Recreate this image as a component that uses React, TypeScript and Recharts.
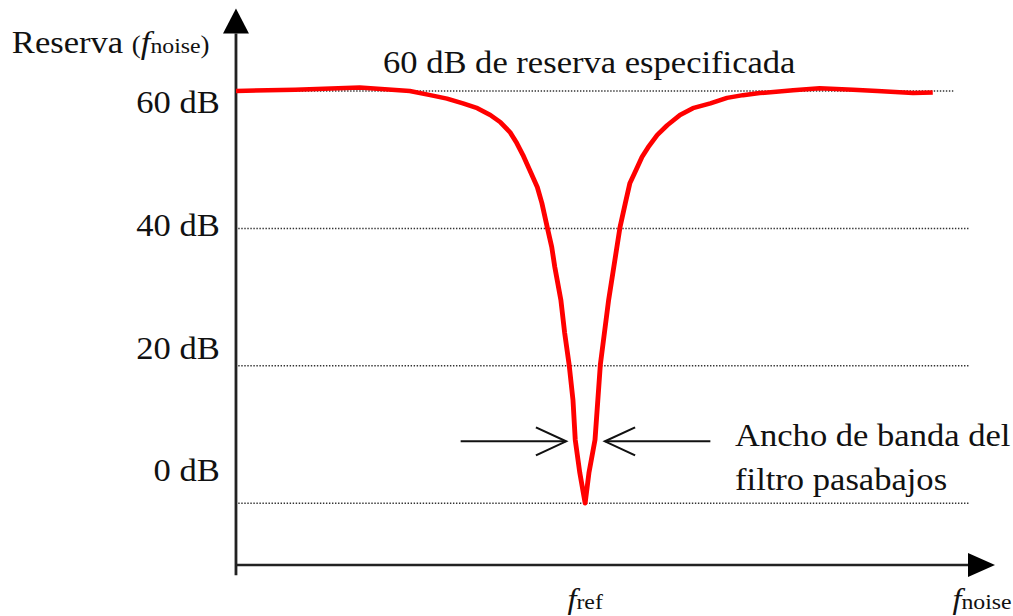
import { Line, LineChart, ReferenceLine, XAxis, YAxis } from "recharts";

// normalised noise frequency (0..10) and the reserve curve in dB
const freq = [
	0, 0.78, 1.63, 2.29, 2.56, 2.78, 2.99, 3.18, 3.35, 3.48, 3.61, 3.7, 3.78,
	3.87, 3.97, 4.03, 4.1, 4.16, 4.2, 4.28, 4.33, 4.39, 4.44, 4.47, 4.53, 4.6,
	4.65, 4.73, 4.8, 4.91, 5.06, 5.13, 5.19, 5.27, 5.35, 5.43, 5.55, 5.68, 5.85,
	6.02, 6.25, 6.47, 6.68, 6.9, 7.34, 7.69, 8.13, 8.45, 8.92, 9.18,
];
const reserve = [
	60, 60.2, 60.5, 60, 59.4, 58.9, 58.2, 57.5, 56.5, 55.5, 54, 52.4, 50.7, 48.5,
	46, 43.7, 40.2, 37.3, 34.4, 29.6, 24.8, 20.1, 15, 9.2, 4.4, 0, 4.4, 9.2, 20.1,
	29.6, 40.2, 43.7, 46.6, 48.5, 50.4, 51.8, 53.6, 55, 56.5, 57.5, 58.2, 59, 59.4,
	59.7, 60.1, 60.4, 60.2, 60, 59.7, 59.8,
];

const yTicks = [0, 20, 40, 60];
const F_REF = 4.6;
const F_MAX = 10;
const xTicks = [F_REF, F_MAX];
const xTickNames = ["ref", "noise"];

const data = freq.map((f, i) => ({ f, db: reserve[i] }));

const FONT = '"Liberation Serif", "Times New Roman", serif';
const INK = "#111";
const STRETCH = 1.08;
const W = 938;
const H = 616;

// labels sit a little off their grid lines
const Y_LABEL_SHIFT: Record<number, number> = { 60: 22, 40: 8, 20: -7, 0: -22 };

const YTick = ({ x, y, payload }: any) => (
	<text
		x={x}
		y={y + (Y_LABEL_SHIFT[payload.value] ?? 0)}
		textAnchor="end"
		fontFamily={FONT}
		fontSize={32}
		fill={INK}
	>
		{payload.value} dB
	</text>
);

const XTick = ({ x, y, payload }: any) => {
	const i = xTicks.indexOf(payload.value);
	return (
		<text
			x={x + (i === 1 ? -12 : 0)}
			y={y + 44}
			textAnchor="middle"
			fontFamily={FONT}
			fill={INK}
		>
			<tspan fontStyle="italic" fontSize={30}>
				f
			</tspan>
			<tspan fontSize={22}>{xTickNames[i]}</tspan>
		</text>
	);
};

// axis with a filled triangular head
const axisArrow = (p: any) => {
	const { x1, y1, x2, y2 } = p;
	const len = Math.hypot(x2 - x1, y2 - y1);
	const ux = (x2 - x1) / len;
	const uy = (y2 - y1) / len;
	const bx = x2 - ux * 25;
	const by = y2 - uy * 25;
	const hw = 12;
	return (
		<g>
			<line x1={x1} y1={y1} x2={bx} y2={by} stroke="#222" strokeWidth={2.6} />
			<polygon
				points={`${x2},${y2} ${bx - uy * hw},${by + ux * hw} ${bx + uy * hw},${by - ux * hw}`}
				fill="#000"
			/>
		</g>
	);
};

// thin arrow with an open V head
const openArrow = (p: any) => {
	const { x1, y1, x2, y2 } = p;
	const len = Math.hypot(x2 - x1, y2 - y1);
	const ux = (x2 - x1) / len;
	const uy = (y2 - y1) / len;
	const bx = x2 - ux * 28;
	const by = y2 - uy * 28;
	const hw = 14;
	return (
		<g fill="none" stroke={INK} strokeWidth={2}>
			<line x1={x1} y1={y1} x2={x2} y2={y2} />
			<polyline
				points={`${bx - uy * hw},${by + ux * hw} ${x2},${y2} ${bx + uy * hw},${by - ux * hw}`}
			/>
		</g>
	);
};

const gridEnd: Record<number, number> = { 60: 9.45, 40: 9.67, 20: 9.67, 0: 9.67 };

export default function App() {
	return (
		<div
			style={{
				position: "absolute",
				left: 0,
				top: 0,
				width: 1013,
				height: H,
				overflow: "hidden",
				background: "#fff",
			}}
		>
			<div
				style={{
					width: W,
					height: H,
					transform: `scaleX(${STRETCH})`,
					transformOrigin: "0 0",
				}}
			>
				<LineChart
					width={W}
					height={H}
					data={data}
					margin={{ top: 8.6, right: 16.7, bottom: 0, left: 0 }}
				>
					<XAxis
						type="number"
						dataKey="f"
						domain={[0, F_MAX]}
						ticks={xTicks}
						interval={0}
						height={51}
						axisLine={false}
						tickLine={false}
						tickSize={0}
						tickMargin={0}
						tick={<XTick />}
					/>
					<YAxis
						type="number"
						domain={[-9, 72]}
						ticks={yTicks}
						interval={0}
						width={218.5}
						axisLine={false}
						tickLine={false}
						tickSize={0}
						tickMargin={15}
						tick={<YTick />}
						allowDataOverflow
					/>

					{yTicks.map((v) => (
						<ReferenceLine
							key={v}
							segment={[
								{ x: 0.03, y: v },
								{ x: gridEnd[v], y: v },
							]}
							stroke="#333"
							strokeWidth={1.5}
							strokeDasharray="1.3 1.5"
							ifOverflow="visible"
						/>
					))}

					<ReferenceLine
						segment={[
							{ x: 0, y: -10.5 },
							{ x: 0, y: 72 },
						]}
						ifOverflow="visible"
						shape={axisArrow}
					/>
					<ReferenceLine
						segment={[
							{ x: 0, y: -9 },
							{ x: F_MAX, y: -9 },
						]}
						ifOverflow="visible"
						shape={axisArrow}
					/>

					<ReferenceLine
						segment={[
							{ x: 2.96, y: 9 },
							{ x: 4.35, y: 9 },
						]}
						ifOverflow="visible"
						shape={openArrow}
					/>
					<ReferenceLine
						segment={[
							{ x: 6.25, y: 9 },
							{ x: 4.86, y: 9 },
						]}
						ifOverflow="visible"
						shape={openArrow}
					/>

					<Line
						type="linear"
						dataKey="db"
						stroke="#ff0000"
						strokeWidth={4.5}
						strokeLinejoin="round"
						dot={false}
						activeDot={false}
						isAnimationActive={false}
					/>

					<text x={11} y={53} fontFamily={FONT} fontSize={32} fill={INK}>
						Reserva <tspan fontSize={25}>(</tspan>
						<tspan fontStyle="italic">f</tspan>
						<tspan fontSize={22}>noise</tspan>
						<tspan fontSize={25}>)</tspan>
					</text>
					<text x={354.6} y={73} fontFamily={FONT} fontSize={32} fill={INK}>
						60 dB de reserva especificada
					</text>
					<text x={680.6} y={446} fontFamily={FONT} fontSize={32} fill={INK}>
						Ancho de banda del
					</text>
					<text x={680.6} y={490} fontFamily={FONT} fontSize={32} fill={INK}>
						filtro pasabajos
					</text>
				</LineChart>
			</div>
		</div>
	);
}
